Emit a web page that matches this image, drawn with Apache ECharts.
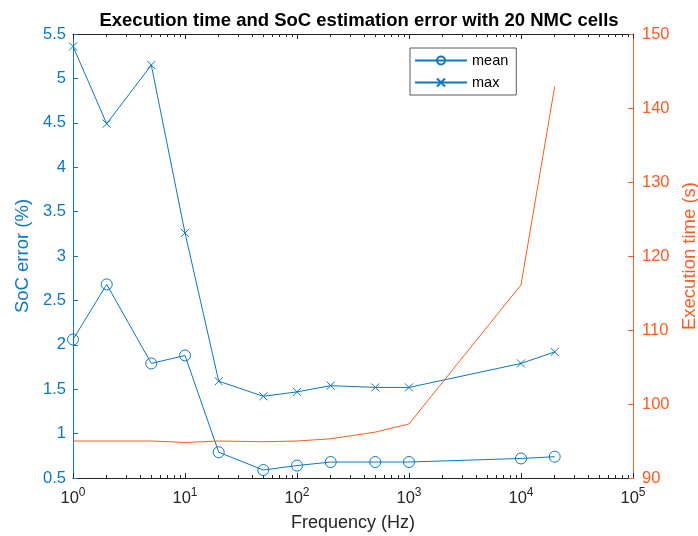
<!DOCTYPE html>
<html>
<head>
<meta charset="utf-8">
<script src="https://cdn.jsdelivr.net/npm/echarts@6/dist/echarts.min.js"></script>
<style>
  html, body { margin: 0; padding: 0; background: #fff; }
  #main { width: 698px; height: 536px; }
</style>
</head>
<body>
<div id="main"></div>
<script>
// frequencies (Hz) and values
var freq = [1, 2, 5, 10, 20, 50, 100, 200, 500, 1000, 10000, 20000];
var meanErr = [2.06, 2.68, 1.79, 1.88, 0.79, 0.59, 0.64, 0.68, 0.68, 0.68, 0.72, 0.74];
var maxErr = [5.36, 4.49, 5.15, 3.26, 1.59, 1.42, 1.47, 1.54, 1.52, 1.52, 1.79, 1.92];
var execTime = [95.0, 95.0, 95.0, 94.8, 95.0, 94.9, 95.0, 95.3, 96.2, 97.3, 116.1, 142.9];

var decadeTicks = [1, 10, 100, 1000, 10000, 100000];
var minorTicks = [];
for (var d = 1; d < 100000; d *= 10) {
    for (var m = 2; m <= 9; m++) minorTicks.push(m * d);
}

var BLUE = '#0A78C6';
var ORANGE = '#FF5A1F';
var FONT = 'Liberation Sans';
// open circle / cross markers drawn as stroked paths (thin outline like matlab)
var CIRCLE = 'path://M5,0A5,5 0 1,1 5,10A5,5 0 1,1 5,0Z';
var CROSS = 'path://M0,0L10,10M10,0L0,10';

function pairs(ys) {
    return freq.map(function (f, i) { return [f, ys[i]]; });
}

function xAxisDef(pos, major) {
    return {
        type: 'log',
        logBase: 10,
        min: 1,
        max: 100000,
        position: pos,
        axisLine: { show: major, lineStyle: { color: '#262626', width: 1 } },
        axisTick: {
            show: true,
            inside: true,
            length: major ? 5 : 3,
            customValues: major ? decadeTicks : minorTicks,
            lineStyle: { color: '#262626' }
        },
        axisLabel: {
            show: major && pos === 'bottom',
            customValues: decadeTicks,
            margin: 9,
            formatter: function (v) {
                var e = Math.round(Math.log10(v));
                return '{b|10}{s|' + e + '}';
            },
            rich: {
                b: { fontFamily: FONT, fontSize: 16.5, color: '#262626' },
                s: { fontFamily: FONT, fontSize: 12, color: '#262626', padding: [0, 0, 10, 0] }
            }
        },
        splitLine: { show: false },
        name: major && pos === 'bottom' ? 'Frequency (Hz)' : '',
        nameLocation: 'middle',
        nameGap: 36,
        nameTextStyle: { fontFamily: FONT, fontSize: 18, color: '#262626' }
    };
}

var chart = echarts.init(document.getElementById('main'));
chart.setOption({
    backgroundColor: '#fff',
    animation: false,
    title: {
        text: 'Execution time and SoC estimation error with 20 NMC cells',
        left: 354,
        textAlign: 'center',
        top: 6,
        textStyle: { fontFamily: FONT, fontSize: 18.5, fontWeight: 'bold', color: '#000' }
    },
    legend: {
        data: ['mean', 'max'],
        orient: 'vertical',
        left: 410,
        top: 48,
        itemWidth: 52,
        itemHeight: 10,
        itemGap: 7,
        padding: [5, 8, 5, 4],
        borderColor: '#5a5a5a',
        borderWidth: 1,
        backgroundColor: '#fff',
        textStyle: { fontFamily: FONT, fontSize: 14.5, color: '#000' }
    },
    grid: { left: 73, right: 65, top: 34, bottom: 58, containLabel: false, outerBoundsMode: 'none' },
    xAxis: [
        xAxisDef('bottom', true),
        xAxisDef('bottom', false),
        xAxisDef('top', true),
        xAxisDef('top', false)
    ],
    yAxis: [{
        type: 'value',
        position: 'left',
        min: 0.5,
        max: 5.5,
        interval: 0.5,
        name: 'SoC error (%)',
        nameLocation: 'middle',
        nameRotate: 90,
        nameGap: 37,
        nameTextStyle: { fontFamily: FONT, fontSize: 18.5, color: BLUE },
        axisLine: { show: true, lineStyle: { color: BLUE } },
        axisTick: { show: true, inside: true, length: 5, lineStyle: { color: BLUE } },
        axisLabel: { fontFamily: FONT, fontSize: 16.5, color: BLUE, margin: 7 },
        splitLine: { show: false }
    }, {
        type: 'value',
        position: 'right',
        min: 90,
        max: 150,
        interval: 10,
        name: 'Execution time (s)',
        nameLocation: 'middle',
        nameRotate: 90,
        nameGap: 47,
        nameTextStyle: { fontFamily: FONT, fontSize: 18.5, color: ORANGE },
        axisLine: { show: true, lineStyle: { color: ORANGE } },
        axisTick: { show: true, inside: true, length: 5, lineStyle: { color: ORANGE } },
        axisLabel: { fontFamily: FONT, fontSize: 16.5, color: ORANGE, margin: 9 },
        splitLine: { show: false }
    }],
    series: [{
        name: 'mean',
        type: 'line',
        xAxisIndex: 0,
        yAxisIndex: 0,
        data: pairs(meanErr),
        symbol: CIRCLE,
        symbolSize: 11,
        showAllSymbol: true,
        lineStyle: { color: BLUE, width: 1 },
        itemStyle: { color: 'rgba(0,0,0,0)', borderColor: BLUE, borderWidth: 1 }
    }, {
        name: 'max',
        type: 'line',
        xAxisIndex: 0,
        yAxisIndex: 0,
        data: pairs(maxErr),
        symbol: CROSS,
        symbolSize: 8,
        showAllSymbol: true,
        lineStyle: { color: BLUE, width: 1 },
        itemStyle: { color: BLUE, borderColor: BLUE, borderWidth: 1 }
    }, {
        name: 'Execution time',
        type: 'line',
        xAxisIndex: 0,
        yAxisIndex: 1,
        data: pairs(execTime),
        symbol: 'none',
        lineStyle: { color: ORANGE, width: 1 },
        itemStyle: { color: ORANGE }
    }]
});
</script>
</body>
</html>
